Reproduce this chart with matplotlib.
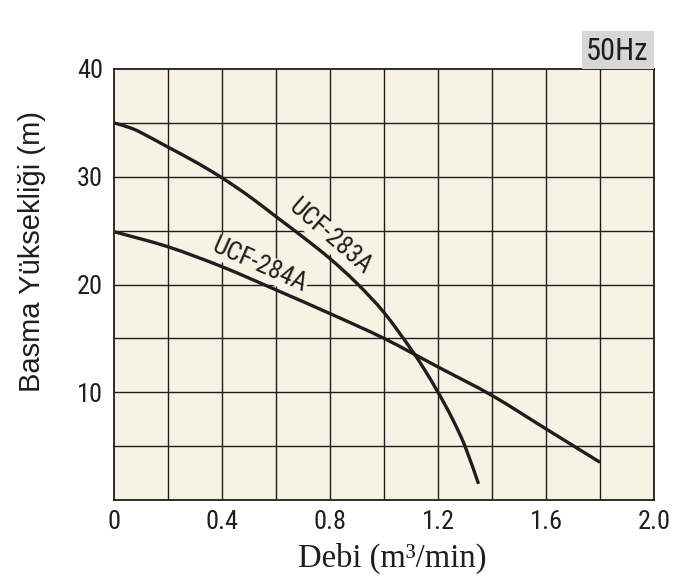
import matplotlib
matplotlib.use("Agg")
import matplotlib.pyplot as plt
from matplotlib import font_manager
from matplotlib.path import Path
from matplotlib.patches import PathPatch, Rectangle

# UCF-283A curve (Debi m3/min, Basma m)
q_283 = [0, 0.07, 0.13, 0.2, 0.3, 0.4, 0.5, 0.6, 0.7, 0.8, 0.9, 1.0, 1.1, 1.15, 1.2, 1.25, 1.3, 1.35]
h_283 = [35.0, 34.45, 33.7, 32.75, 31.4, 29.9, 28.2, 26.3, 24.4, 22.4, 20.1, 17.4, 14.0, 12.1, 10.0, 7.7, 5.0, 1.5]

# UCF-284A curve
q_284 = [0, 0.2, 0.4, 0.6, 0.8, 1.0, 1.2, 1.4, 1.6, 1.8]
h_284 = [24.9, 23.5, 21.65, 19.5, 17.3, 15.0, 12.35, 9.7, 6.6, 3.5]

x_ticks = [0, 0.4, 0.8, 1.2, 1.6, 2.0]
x_labels = ["0", "0.4", "0.8", "1.2", "1.6", "2.0"]
y_ticks = [10, 20, 30, 40]

have = {f.name for f in font_manager.fontManager.ttflist}
narrow = [n for n in ["Liberation Sans Narrow", "Roboto Condensed", "Roboto"] if n in have][:1] + ["DejaVu Sans"]
bg = "#f6f2e4"
ink = "#1e1e1e"


def smooth_path(xs, ys):
    # Catmull-Rom through the read points, drawn as cubic Bezier segments
    pts = list(zip(xs, ys))
    verts = [pts[0]]
    codes = [Path.MOVETO]
    for i in range(len(pts) - 1):
        p0 = pts[i - 1] if i > 0 else pts[i]
        p1 = pts[i]
        p2 = pts[i + 1]
        p3 = pts[i + 2] if i + 2 < len(pts) else pts[i + 1]
        c1 = (p1[0] + (p2[0] - p0[0]) / 6, p1[1] + (p2[1] - p0[1]) / 6)
        c2 = (p2[0] - (p3[0] - p1[0]) / 6, p2[1] - (p3[1] - p1[1]) / 6)
        verts += [c1, c2, p2]
        codes += [Path.CURVE4] * 3
    return Path(verts, codes)


fig = plt.figure(figsize=(6.85, 5.77), dpi=100)
ax = fig.add_axes([114 / 685, 77 / 577, 540 / 685, 431 / 577])
ax.set_facecolor(bg)

# grid every 0.2 / 5 m
for gx in [i * 0.2 for i in range(1, 10)]:
    ax.axvline(gx, color=ink, lw=1.0, zorder=1)
for gy in range(5, 40, 5):
    ax.axhline(gy, color=ink, lw=1.0, zorder=1)

for qs, hs in [(q_283, h_283), (q_284, h_284)]:
    ax.add_patch(PathPatch(smooth_path(qs, hs), facecolor="none", edgecolor=ink,
                           lw=2.4, capstyle="butt", zorder=3))

ax.text(0.80, 24.4, "UCF-283A", rotation=-41, ha="center", va="center",
        fontsize=18.5, family=narrow, color=ink, zorder=4,
        bbox=dict(facecolor=bg, edgecolor="none", pad=0.5))
ax.text(0.54, 21.8, "UCF-284A", rotation=-24, ha="center", va="center",
        fontsize=18.5, family=narrow, color=ink, zorder=4,
        bbox=dict(facecolor=bg, edgecolor="none", pad=0.5))

ax.set_xlim(0, 2.0)
ax.set_ylim(0, 40)
ax.set_xticks(x_ticks)
ax.set_xticklabels(x_labels)
ax.set_yticks(y_ticks)
ax.tick_params(length=0, labelsize=19, colors=ink)
ax.tick_params(axis="y", pad=8)
ax.tick_params(axis="x", pad=7)
for lab in ax.get_xticklabels() + ax.get_yticklabels():
    lab.set_family(narrow)
for s in ax.spines.values():
    s.set_color(ink)
    s.set_linewidth(1.3)

fig.text(392 / 685, 1 - 567 / 577, "Debi (m³/min)", ha="center", va="baseline",
         family=["Liberation Serif", "DejaVu Serif"], fontsize=23.5, color=ink)
fig.text(32 / 685, 1 - 251 / 577, "Basma Yüksekliği (m)", rotation=90,
         ha="center", va="center", family=["Liberation Sans", "DejaVu Sans"],
         fontsize=21, color=ink)

fig.add_artist(Rectangle((582 / 685, 1 - 69 / 577), 72 / 685, 38 / 577,
                         transform=fig.transFigure, facecolor="#d7d7d7",
                         edgecolor="none"))
fig.text(617 / 685, 1 - 60.5 / 577, "50Hz", ha="center", va="baseline",
         fontsize=22, family=narrow, color=ink)

fig.savefig("out.png", dpi=100)
